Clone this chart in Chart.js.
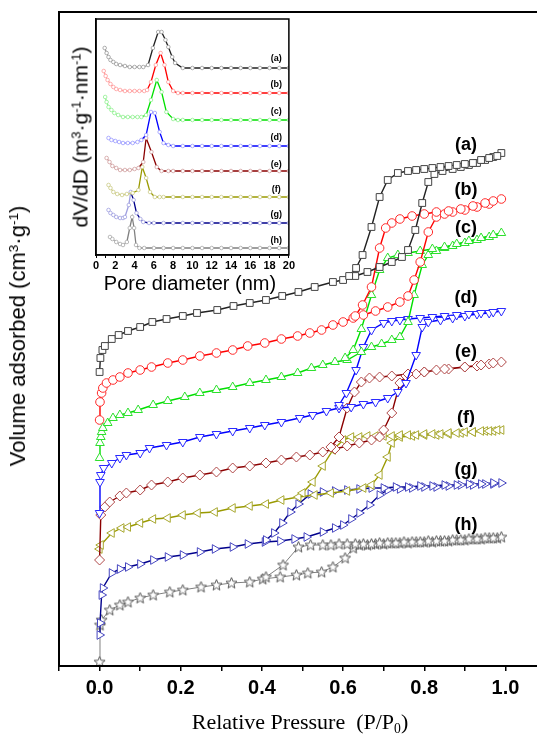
<!DOCTYPE html>
<html>
<head>
<meta charset="utf-8">
<script src="https://cdn.jsdelivr.net/npm/chart.js@4.4.1/dist/chart.umd.min.js"></script>
<style>
html,body{margin:0;padding:0;background:#fff;}
body{width:537px;height:737px;overflow:hidden;position:relative;font-family:"Liberation Sans",Arial,sans-serif;}
#main{position:absolute;left:0;top:0;}
#ins{position:absolute;left:86px;top:14px;}
.t{position:absolute;white-space:nowrap;color:#000;line-height:1;}
.rot{transform:translate(-50%,-50%) rotate(-90deg);}
.ctr{transform:translate(-50%,-50%);}
sup{font-size:62%;vertical-align:0.55em;line-height:0;}
sub{font-size:62%;vertical-align:-0.3em;line-height:0;}
</style>
</head>
<body>
<canvas id="main" width="560" height="737"></canvas>
<canvas id="ins" width="210" height="260"></canvas>

<div class="t rot" style="left:18px;top:336px;font-size:22px;">Volume adsorbed (cm<sup>3</sup>·g<sup>-1</sup>)</div>
<div class="t ctr" style="left:300px;top:722px;font-size:22px;font-family:'Liberation Serif','Times New Roman',serif;">Relative Pressure&nbsp; (P/P<sub>0</sub>)</div>
<div class="t rot" style="left:80px;top:137px;font-size:21px;">dV/dD (m<sup>3</sup>·g<sup>-1</sup>·nm<sup>-1</sup>)</div>
<div class="t ctr" style="left:190px;top:283px;font-size:20px;">Pore diameter (nm)</div>

<script>
/* isotherms: P/P0 and volume (arbitrary offset units), adsorption + desorption */
const aAdsP = [0,0.002,0.007,0.013,0.03,0.047,0.07,0.1,0.13,0.165,0.205,0.24,0.29,0.33,0.37,0.41,0.45,0.49,0.53,0.575,0.6,0.63,0.66,0.69,0.72,0.745,0.76,0.778,0.795,0.81,0.825,0.845,0.87,0.89,0.91,0.93,0.95,0.97,0.99];
const aAdsV = [294,308,316,320,327,331,335,339,344,347,350,353,356,360,363,366,370,374,379,384,386,390,394,399,404,409,416,436,463,484,492,495,497,499,501,503,506,509,513];
const aDesP = [0.98,0.96,0.94,0.92,0.9,0.88,0.86,0.84,0.82,0.8,0.78,0.76,0.735,0.71,0.69,0.67,0.648,0.632,0.615];
const aDesV = [510,508,506,503,502,501,500,499,498,497,496,495,493,486,469,439,411,398,390];

const bAdsP = [0,0.001,0.005,0.008,0.017,0.033,0.05,0.07,0.1,0.128,0.168,0.205,0.247,0.288,0.328,0.365,0.407,0.448,0.488,0.518,0.547,0.575,0.6,0.625,0.65,0.68,0.71,0.74,0.76,0.775,0.79,0.81,0.83,0.85,0.87,0.9,0.93,0.96,0.99];
const bAdsV = [246,264,273,278,283,286,289,293,296,299,303,306,310,313,316,320,323,327,330,333,336,341,344,348,351,355,359,364,370,386,404,434,449,452,454,456,459,462,467];
const bDesP = [0.97,0.95,0.92,0.89,0.86,0.83,0.8,0.77,0.74,0.72,0.705,0.69,0.67,0.648,0.63];
const bDesV = [465,463,460,457,455,454,452,450,447,443,438,418,379,361,350];

const cAdsP = [0,0.001,0.003,0.005,0.008,0.02,0.033,0.05,0.07,0.095,0.132,0.168,0.21,0.247,0.288,0.328,0.37,0.41,0.448,0.488,0.522,0.55,0.58,0.61,0.645,0.67,0.695,0.72,0.74,0.76,0.775,0.795,0.81,0.83,0.85,0.87,0.9,0.93,0.96,0.99];
const cAdsV = [208,223,229,234,238,243,248,251,253,256,261,265,269,273,276,279,283,286,289,293,298,301,304,306,314,319,322,326,329,344,371,401,411,415,418,420,423,426,429,433];
const cDesP = [0.97,0.94,0.91,0.88,0.85,0.82,0.79,0.76,0.735,0.71,0.69,0.67,0.645,0.625,0.605];
const cDesV = [431,428,425,422,419,417,415,413,411,408,396,371,337,316,308];

const dAdsP = [0,0.001,0.003,0.01,0.03,0.05,0.066,0.1,0.123,0.165,0.205,0.247,0.288,0.328,0.37,0.407,0.448,0.493,0.525,0.559,0.59,0.62,0.65,0.68,0.71,0.735,0.755,0.78,0.795,0.81,0.84,0.87,0.9,0.93,0.96,0.99];
const dAdsV = [153,184,191,198,203,208,211,213,218,221,224,229,232,235,238,241,244,248,251,255,258,259,262,264,268,274,283,311,339,344,346,348,350,352,353,355];
const dDesP = [0.97,0.94,0.91,0.88,0.85,0.82,0.79,0.76,0.74,0.72,0.7,0.67,0.65,0.632,0.608,0.59];
const dDesV = [354,353,352,351,350,349,348,347,346,345,343,336,319,296,273,261];

const eAdsP = [0,0.003,0.013,0.025,0.05,0.066,0.1,0.128,0.168,0.205,0.247,0.288,0.328,0.37,0.41,0.448,0.485,0.518,0.55,0.58,0.61,0.64,0.67,0.69,0.7,0.72,0.74,0.755,0.78,0.8,0.83,0.86,0.9,0.93,0.96,0.99];
const eAdsV = [106,151,159,164,170,173,176,181,184,188,191,194,198,200,203,206,209,211,214,217,220,223,226,229,236,253,283,290,292,294,296,297,299,300,302,304];
const eDesP = [0.97,0.94,0.9,0.85,0.8,0.76,0.72,0.69,0.665,0.645,0.628,0.61,0.59,0.57];
const eDesV = [303,301,299,297,294,292,290,289,288,284,274,258,229,219];

const fAdsP = [0,0.003,0.03,0.054,0.07,0.1,0.132,0.168,0.205,0.242,0.284,0.328,0.37,0.41,0.448,0.49,0.53,0.57,0.61,0.65,0.67,0.69,0.71,0.72,0.74,0.77,0.8,0.83,0.86,0.89,0.92,0.95,0.97,0.99];
const fAdsV = [117,121,133,138,139,143,147,148,151,153,154,158,160,162,166,169,171,173,175,178,181,191,209,223,229,230,231,231,232,233,234,235,235,236];
const fDesP = [0.98,0.96,0.94,0.92,0.9,0.88,0.86,0.84,0.82,0.8,0.78,0.76,0.74,0.72,0.7,0.68,0.66,0.64,0.62,0.6,0.575,0.55,0.525,0.5];
const fDesV = [236,235,235,234,234,233,233,232,232,232,231,231,231,230,230,230,230,229,229,226,216,200,184,173];

const gAdsP = [0,0.001,0.005,0.008,0.03,0.05,0.07,0.1,0.132,0.168,0.205,0.247,0.284,0.328,0.365,0.407,0.445,0.48,0.51,0.55,0.58,0.6,0.62,0.64,0.665,0.69,0.71,0.74,0.77,0.8,0.83,0.86,0.89,0.92,0.95,0.97,0.99];
const gAdsV = [31,43,71,78,93,97,99,102,106,109,111,114,117,119,122,124,125,127,129,134,138,141,147,153,161,171,176,177,178,179,179,180,181,181,182,182,183];
const gDesP = [0.97,0.94,0.91,0.88,0.85,0.82,0.79,0.76,0.73,0.7,0.67,0.64,0.61,0.58,0.55,0.52,0.49,0.47,0.45,0.43,0.41];
const gDesV = [183,182,182,181,181,180,180,179,179,178,178,177,176,175,174,172,162,154,143,133,126];

const hAdsP = [0,0.001,0.005,0.025,0.05,0.07,0.1,0.132,0.173,0.205,0.25,0.288,0.325,0.37,0.402,0.445,0.485,0.513,0.547,0.575,0.605,0.625,0.64,0.66,0.68,0.7,0.72,0.74,0.76,0.78,0.8,0.82,0.84,0.86,0.88,0.9,0.92,0.94,0.96,0.98,0.99];
const hAdsV = [4,41,46,56,61,64,68,71,74,76,79,81,83,84,87,89,91,93,94,99,108,118,121,121,122,122,123,123,123,124,124,124,125,125,126,126,127,127,128,128,129];
const hDesP = [0.97,0.95,0.93,0.91,0.89,0.87,0.85,0.83,0.81,0.79,0.77,0.75,0.73,0.71,0.69,0.67,0.65,0.63,0.61,0.59,0.57,0.55,0.52,0.49,0.452,0.41];
const hDesV = [128,128,127,127,126,126,125,125,125,124,124,124,123,123,123,122,122,122,122,122,121,121,121,119,101,89];

/* series labels */
const seriesNames = ['(a)','(b)','(c)','(d)','(e)','(f)','(g)','(h)'];
const labelP = 0.903;
const labelV = [521,476,438,368,314,248,196,141];

/* inset: pore size distributions, D in nm, offset dV/dD units */
const baseD = [9,10,11,12,13,14,15,16,17,18,19,20];
const iaD = [0.9,1.1,1.3,1.5,1.8,2.1,2.5,3.0,3.5,4.0,4.5,4.9,5.4,5.9,6.45,6.8,7.2,7.5,7.9,8.2];
const iaV = [207,202,198,195,193,191,190,189,188,188,188,188,190,207,223,223,215,208,198,192];
const iaBase = 187;
const ibD = [0.8,1.0,1.2,1.5,1.8,2.1,2.5,3.0,3.5,4.0,4.5,5.0,5.3,5.7,6.2,6.7,7.1,7.5,8.0,8.5];
const ibV = [184,179,175,171,168,166,165,164,164,164,164,164,165,173,190,202,190,173,164,162];
const ibBase = 162;
const icD = [0.95,1.1,1.3,1.6,1.9,2.3,2.8,3.3,3.8,4.3,4.7,5.2,5.7,6.3,6.8,7.3,8.0,8.5];
const icV = [158,153,148,145,142,140,138,138,138,138,138,140,155,175,163,143,136,135];
const icBase = 135;
const idD = [1.3,1.6,2.0,2.4,2.8,3.3,3.8,4.3,4.7,5.2,5.7,6.1,6.6,7.0,7.5,8.0];
const idV = [117,115,114,113,112,112,112,113,115,120,143,142,123,112,110,109];
const idBase = 109;
const ieD = [1.1,1.4,1.7,2.1,2.5,3.0,3.5,4.0,4.4,4.9,5.2,5.75,6.3,6.8,7.5,8.0];
const ieV = [97,93,89,87,85,85,85,86,87,93,117,103,88,84,84,84];
const ieBase = 84;
const ifD = [1.3,1.5,1.8,2.2,2.7,3.2,3.8,4.4,4.8,5.2,5.6,6.1,6.6,7.0,8.0];
const ifV = [70,67,63,61,60,61,62,65,88,77,63,58,58,58,58];
const ifBase = 58;
const igD = [1.3,1.5,1.8,2.1,2.5,2.8,3.0,3.4,3.6,3.9,4.2,4.6,4.9,5.5,6.0,7.0,8.0];
const igV = [45,42,40,38,37,37,38,50,63,55,42,36,33,32,32,32,32];
const igBase = 32;
const ihD = [1.45,1.7,2.1,2.5,2.8,3.2,3.5,3.75,3.95,4.15,4.5,5.0,6.0,7.0,8.0];
const ihV = [18,16,13,11,10,13,27,38,27,10,7,7,7,7,7];
const ihBase = 7;

/* styles */
const lineCols   = ['#222222','#ff0000','#00e000','#0000ff','#8b0000','#9a9a00','#00008b','#808080'];
const markerCols = ['#444444','#ff2a2a','#2ee02e','#2a2aff','#b04848','#a8a830','#4646c0','#555555'];
const insetPale  = ['#9a9a9a','#ff9a9a','#8ff08f','#9a9aff','#d0a0a0','#cccc88','#a0a0e0','#a8a8a8'];
const pStyles    = ['rect','circle','triangle','triangle','rectRot','triangle','triangle','star'];
const pRot       = [0,0,0,180,0,270,90,0];
const pRad       = [4.8,4.3,5,5,5,5,5,5];

/* helpers */
function pts(xs, ys){ return xs.map((x,i)=>({x:x, y:ys[i]})); }

function starImage(color){
  const c = document.createElement('canvas');
  c.width = 13; c.height = 13;
  const g = c.getContext('2d');
  g.strokeStyle = color; g.lineWidth = 1;
  g.beginPath();
  for(let i=0;i<10;i++){
    const r = i%2===0 ? 5.8 : 2.5;
    const a = -Math.PI/2 + i*Math.PI/5;
    const px = 6.5 + r*Math.cos(a), py = 6.8 + r*Math.sin(a);
    if(i===0) g.moveTo(px,py); else g.lineTo(px,py);
  }
  g.closePath(); g.fillStyle='#fff'; g.fill(); g.stroke();
  return c;
}

const iso = [
  [aAdsP,aAdsV,aDesP,aDesV],[bAdsP,bAdsV,bDesP,bDesV],[cAdsP,cAdsV,cDesP,cDesV],[dAdsP,dAdsV,dDesP,dDesV],
  [eAdsP,eAdsV,eDesP,eDesV],[fAdsP,fAdsV,fDesP,fDesV],[gAdsP,gAdsV,gDesP,gDesV],[hAdsP,hAdsV,hDesP,hDesV]
];

const mainSets = iso.map((s,i)=>({
  label: seriesNames[i],
  data: pts(s[0],s[1]).concat(pts(s[2],s[3])),
  showLine: true,
  borderColor: lineCols[i],
  borderWidth: i===7 ? 1 : 1.4,
  pointStyle: pStyles[i]==='star' ? starImage(markerCols[i]) : pStyles[i],
  pointRotation: pRot[i],
  pointRadius: pRad[i],
  pointBorderColor: markerCols[i],
  pointBackgroundColor: '#ffffff',
  pointBorderWidth: 1,
  tension: 0
}));

/* plugins */
const frame = {
  id:'frame',
  afterDraw(chart, args, opts){
    const {ctx, chartArea:a} = chart;
    ctx.save();
    ctx.strokeStyle = '#000'; ctx.lineWidth = opts.width || 2;
    ctx.strokeRect(a.left, a.top, a.right-a.left, a.bottom-a.top);
    ctx.restore();
  }
};
const whiteBg = {
  id:'whiteBg',
  beforeDraw(chart){
    const {ctx, chartArea:a} = chart;
    ctx.save(); ctx.fillStyle='#fff';
    ctx.fillRect(a.left, a.top, a.right-a.left, a.bottom-a.top);
    ctx.restore();
  }
};
const seriesLabels = {
  id:'seriesLabels',
  afterDatasetsDraw(chart){
    const {ctx, scales:{x,y}} = chart;
    ctx.save();
    ctx.font = 'bold 18px "Liberation Sans", Arial, sans-serif';
    ctx.fillStyle = '#000'; ctx.textAlign = 'center'; ctx.textBaseline = 'middle';
    seriesNames.forEach((s,i)=>ctx.fillText(s, x.getPixelForValue(labelP), y.getPixelForValue(labelV[i])));
    ctx.restore();
  }
};

new Chart(document.getElementById('main'), {
  type: 'scatter',
  data: { datasets: mainSets },
  options: {
    responsive: false, animation: false,
    layout: { padding: { left:0, right:14, top:12, bottom:0 } },
    plugins: { legend:{display:false}, tooltip:{enabled:false}, frame:{width:2} },
    scales: {
      x: {
        type:'linear', min:-0.1, max:1.1,
        grid: { drawOnChartArea:false, drawTicks:true, tickLength:5, color:'#000', lineWidth:1.5 },
        border: { color:'#000', width:2 },
        ticks: {
          stepSize:0.1, autoSkip:false, maxRotation:0, color:'#000', padding:5,
          font: { family:'"Liberation Sans", Arial', size:20, weight:'bold' },
          callback: v => { const k = Math.round(v*10); return (k>=0 && k%2===0) ? (k/10).toFixed(1) : ''; }
        },
        afterFit: s => { s.height = 71; }
      },
      y: {
        min:0, max:654,
        grid: { drawOnChartArea:false, drawTicks:false },
        border: { color:'#000', width:2 },
        ticks: { display:false },
        afterFit: s => { s.width = 59; }
      }
    }
  },
  plugins: [frame, seriesLabels]
});

/* inset */
const insetRaw = [[iaD,iaV,iaBase],[ibD,ibV,ibBase],[icD,icV,icBase],[idD,idV,idBase],[ieD,ieV,ieBase],[ifD,ifV,ifBase],[igD,igV,igBase],[ihD,ihV,ihBase]];
const insetLabelV = [196,170,143,117,90,65,40,14];
const insetSets = insetRaw.map((s,i)=>({
  data: pts(s[0],s[1]).concat(baseD.map(d=>({x:d, y:s[2]}))),
  showLine: true,
  borderColor: lineCols[i],
  borderWidth: 1.3,
  pointRadius: 1.8,
  pointBorderWidth: 0.8,
  pointBorderColor: insetPale[i],
  pointBackgroundColor: '#fff',
  segment: { borderColor: ctx => ctx.p1.parsed.x < 5.6 - i*0.25 && ctx.p1.parsed.x < 3.4 + (7-i)*0.35 ? insetPale[i] : lineCols[i] }
}));

const insetLabels = {
  id:'insetLabels',
  afterDatasetsDraw(chart){
    const {ctx, scales:{x,y}} = chart;
    ctx.save();
    ctx.font = 'bold 9px "Liberation Sans", Arial, sans-serif';
    ctx.fillStyle = '#000'; ctx.textAlign = 'center'; ctx.textBaseline = 'middle';
    seriesNames.forEach((s,i)=>ctx.fillText(s, x.getPixelForValue(18.7), y.getPixelForValue(insetLabelV[i])));
    ctx.restore();
  }
};

new Chart(document.getElementById('ins'), {
  type: 'scatter',
  data: { datasets: insetSets },
  options: {
    responsive: false, animation: false,
    layout: { padding: { left:0, right:6, top:5, bottom:0 } },
    plugins: { legend:{display:false}, tooltip:{enabled:false}, frame:{width:1.5} },
    scales: {
      x: {
        type:'linear', min:0, max:20,
        grid: { drawOnChartArea:false, drawTicks:true, tickLength:3, color:'#000', lineWidth:1 },
        border: { color:'#000', width:1.5 },
        ticks: {
          stepSize:1, autoSkip:false, maxRotation:0, color:'#000', padding:1,
          font: { family:'"Liberation Sans", Arial', size:11, weight:'bold' },
          callback: v => (Math.round(v)%2===0 ? String(Math.round(v)) : '')
        },
        afterFit: s => { s.height = 19; }
      },
      y: {
        min:0, max:236,
        grid: { drawOnChartArea:false, drawTicks:false },
        border: { color:'#000', width:1.5 },
        ticks: { display:false },
        afterFit: s => { s.width = 10; }
      }
    }
  },
  plugins: [whiteBg, frame, insetLabels]
});
</script>
</body>
</html>
